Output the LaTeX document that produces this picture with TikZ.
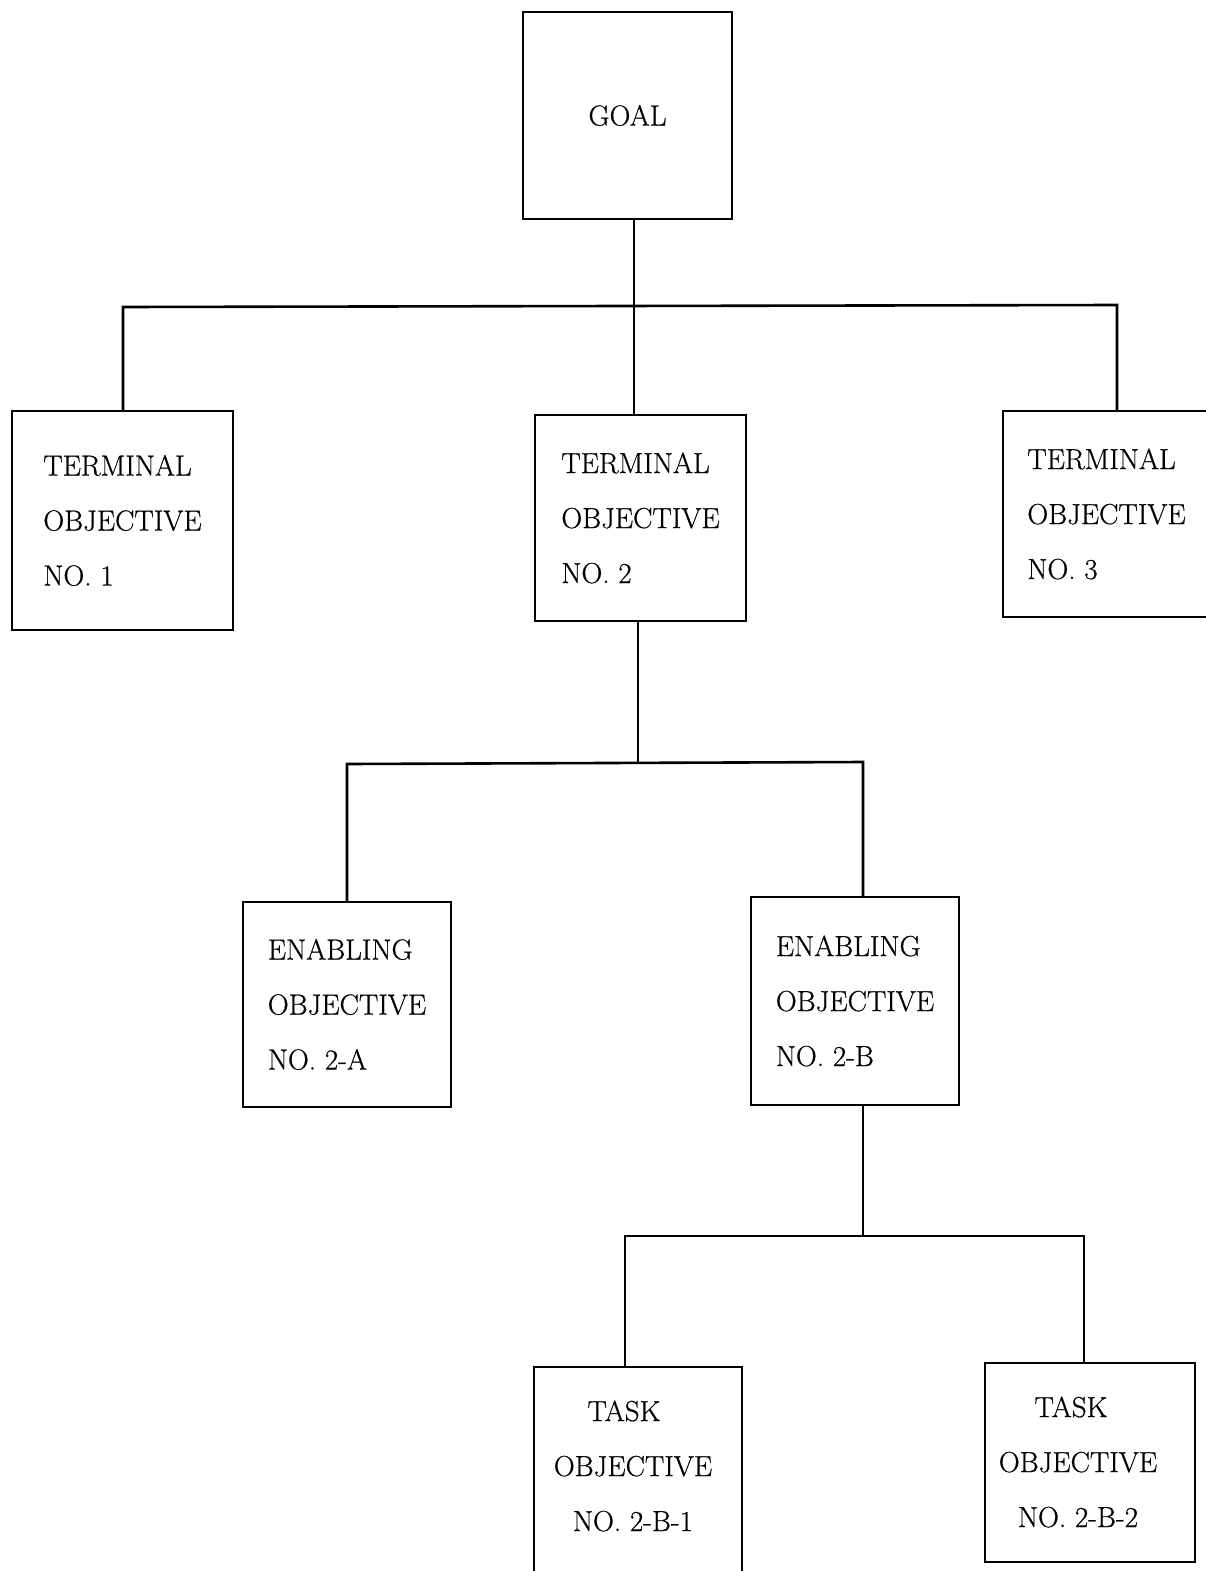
\documentclass[tikz,border=0pt]{standalone}
\usepackage{fontspec}
\setmainfont{Latin Modern Roman}
\newfontfamily\labelfont{Latin Modern Roman}[FakeBold=0.6]
\usetikzlibrary{calc}

\begin{document}
\begin{tikzpicture}[x=1pt,y=-1pt,
  every node/.style={font=\labelfont\fontsize{29}{55}\selectfont},
  objbox/.style={draw,line width=2.4pt,inner sep=0pt,align=left},
  plainbox/.style={draw,line width=2.4pt,inner sep=0pt},
  txt/.style={align=center,inner sep=0pt},
  link/.style={line width=2.6pt}
]
\useasboundingbox (0,0) rectangle (1206,1571);

% top level
\node[plainbox,minimum width=209,minimum height=207] (goal) at (627.5,115.5) {GOAL};

% terminal objectives
\node[objbox,minimum width=221,minimum height=219] (t1) at (122.5,520.5)
  {TERMINAL\\OBJECTIVE\\NO. 1};
\node[objbox,minimum width=211,minimum height=206] (t2) at (640.5,518)
  {TERMINAL\\OBJECTIVE\\NO. 2};
\node[objbox,minimum width=207,minimum height=206] (t3) at (1106.5,514)
  {TERMINAL\\OBJECTIVE\\NO. 3};

% enabling objectives
\node[objbox,minimum width=208,minimum height=205] (ea) at (347,1004.5)
  {ENABLING\\OBJECTIVE\\NO. 2-A};
\node[objbox,minimum width=208,minimum height=208] (eb) at (855,1001)
  {ENABLING\\OBJECTIVE\\NO. 2-B};

% task objectives
\node[plainbox,minimum width=208,minimum height=205] (ta) at (638,1469.5) {};
\node[txt] (tatext) at (633,1466) {TASK\hspace*{18pt}\\OBJECTIVE\\NO. 2-B-1};
\node[plainbox,minimum width=210,minimum height=199] (tb) at (1090,1462.5) {};
\node[txt] (tbtext) at (1078,1462) {TASK\hspace*{14pt}\\OBJECTIVE\\NO. 2-B-2};

% junction points of the connecting bars
\coordinate (j1) at (634,306);
\coordinate (b1l) at (123,307);
\coordinate (b1r) at (1117,305);
\coordinate (j2) at (638,763);
\coordinate (b2l) at (347,764);
\coordinate (b2r) at (863,762);
\coordinate (j3) at (863,1236);
\coordinate (b3l) at (625,1236);
\coordinate (b3r) at (1084,1236);

% goal -> terminal objectives
\draw[link] (goal.south -| j1) -- (t2.north -| j1);
\draw[link] (t1.north -| b1l) -- (b1l) -- (b1r) -- (t3.north -| b1r);

% terminal objective 2 -> enabling objectives
\draw[link] (t2.south -| j2) -- (j2);
\draw[link] (ea.north -| b2l) -- (b2l) -- (b2r) -- (eb.north -| b2r);

% enabling objective 2-B -> task objectives
\draw[link] (eb.south -| j3) -- (j3);
\draw[link] (ta.north -| b3l) -- (b3l) -- (b3r) -- (tb.north -| b3r);
\end{tikzpicture}
\end{document}
